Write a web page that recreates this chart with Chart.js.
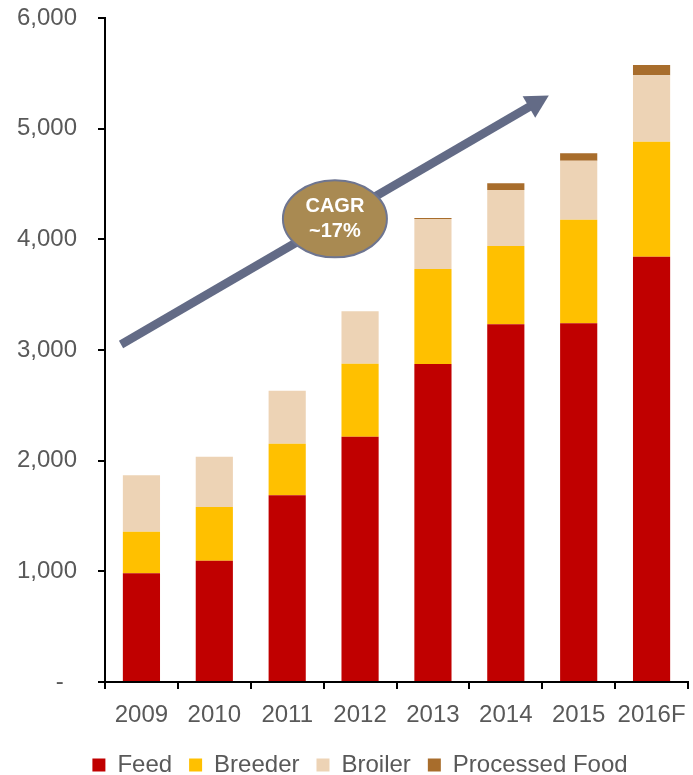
<!DOCTYPE html>
<html>
<head>
<meta charset="utf-8">
<script src="https://cdn.jsdelivr.net/npm/chart.js@4.4.1/dist/chart.umd.min.js"></script>
<style>
  html, body { margin: 0; padding: 0; background: #fff; }
  #wrap { width: 693px; height: 775px; }
</style>
</head>
<body>
<div id="wrap"><canvas id="salesChart" width="693" height="775"></canvas></div>
<script>
// chart data
var years = ['2009', '2010', '2011', '2012', '2013', '2014', '2015', '2016F'];
var feed = [982, 1096, 1687, 2216, 2873, 3232, 3241, 3843];
var breeder = [376, 485, 466, 660, 859, 708, 936, 1039];
var broiler = [510, 455, 479, 474, 452, 506, 533, 600];
var processedFood = [0, 0, 0, 0, 8, 60, 67, 93];
var yTicks = [0, 1000, 2000, 3000, 4000, 5000, 6000];

// CAGR arrow, in data units (category index, value)
var arrowFrom = { x: -0.28, y: 3050 };
var arrowTo = { x: 5.59, y: 5300 };
var badgeAt = { x: 2.655, y: 4185 };

var FONT = '"Liberation Sans", Arial, sans-serif';
var GREY = '#595959';

var cagrArrow = {
    id: 'cagrArrow',
    afterLayout: function (chart) {
        // nudge the legend row to the right, like the original
        chart.legend.left += 16;
        chart.legend.right += 16;
    },
    afterDatasetsDraw: function (chart) {
        var ctx = chart.ctx;
        var xs = chart.scales.x, ys = chart.scales.y;
        var x1 = xs.getPixelForValue(arrowFrom.x), y1 = ys.getPixelForValue(arrowFrom.y);
        var x2 = xs.getPixelForValue(arrowTo.x), y2 = ys.getPixelForValue(arrowTo.y);
        var len = Math.hypot(x2 - x1, y2 - y1);
        var ux = (x2 - x1) / len, uy = (y2 - y1) / len;
        var headLen = 23, headHalf = 12.5;
        var bx = x2 - ux * headLen, by = y2 - uy * headLen;

        ctx.save();
        ctx.strokeStyle = '#636B86';
        ctx.fillStyle = '#636B86';
        ctx.lineWidth = 8.5;
        ctx.lineCap = 'butt';
        ctx.beginPath();
        ctx.moveTo(x1, y1);
        ctx.lineTo(bx + ux * 2, by + uy * 2);
        ctx.stroke();
        ctx.beginPath();
        ctx.moveTo(x2, y2);
        ctx.lineTo(bx - uy * headHalf, by + ux * headHalf);
        ctx.lineTo(bx + uy * headHalf, by - ux * headHalf);
        ctx.closePath();
        ctx.fill();

        var cx = xs.getPixelForValue(badgeAt.x), cy = ys.getPixelForValue(badgeAt.y);
        ctx.beginPath();
        ctx.ellipse(cx, cy, 52, 38.5, 0, 0, Math.PI * 2);
        ctx.fillStyle = '#A98A52';
        ctx.fill();
        ctx.lineWidth = 2;
        ctx.strokeStyle = '#6E7590';
        ctx.stroke();

        ctx.fillStyle = '#ffffff';
        ctx.font = 'bold 20px ' + FONT;
        ctx.textAlign = 'center';
        ctx.textBaseline = 'middle';
        ctx.fillText('CAGR', cx, cy - 12);
        ctx.fillText('~17%', cx, cy + 13);
        ctx.restore();
    }
};

var ctx = document.getElementById('salesChart');
var chart = new Chart(ctx, {
    type: 'bar',
    data: {
        labels: years,
        datasets: [
            { label: 'Feed', data: feed, backgroundColor: '#C00000' },
            { label: 'Breeder', data: breeder, backgroundColor: '#FFC000' },
            { label: 'Broiler', data: broiler, backgroundColor: '#EDD3B5' },
            { label: 'Processed Food', data: processedFood, backgroundColor: '#A86D2C' }
        ]
    },
    options: {
        responsive: false,
        animation: false,
        devicePixelRatio: 1,
        layout: { padding: { left: 0, right: 5, top: 18, bottom: -12 } },
        datasets: {
            bar: { barPercentage: 0.51, categoryPercentage: 1, borderWidth: 0 }
        },
        plugins: {
            legend: {
                position: 'bottom',
                labels: {
                    boxWidth: 13,
                    boxHeight: 13,
                    padding: 17,
                    color: GREY,
                    font: { family: FONT, size: 24 }
                }
            },
            tooltip: { enabled: false }
        },
        scales: {
            x: {
                stacked: true,
                afterFit: function (scale) {
                    scale.height = 54;
                    scale.paddingLeft = 0;
                    scale.paddingRight = 0;
                },
                border: { color: '#000', width: 2 },
                grid: { drawOnChartArea: false, tickLength: 7, color: '#000', lineWidth: 2, offset: true },
                ticks: { color: GREY, padding: 12, font: { family: FONT, size: 24 }, maxRotation: 0 }
            },
            y: {
                stacked: true,
                min: 0,
                max: 6000,
                afterFit: function (scale) {
                    scale.width = 105;
                    scale.paddingTop = 0;
                    scale.paddingBottom = 0;
                },
                afterBuildTicks: function (scale) {
                    scale.ticks = yTicks.map(function (v) { return { value: v }; });
                },
                border: { color: '#000', width: 2 },
                grid: { drawOnChartArea: false, tickLength: 7, color: '#000', lineWidth: 2 },
                ticks: {
                    color: GREY,
                    padding: 21,
                    font: { family: FONT, size: 24 },
                    callback: function (v) { return v === 0 ? '-  ' : v.toLocaleString('en-US'); }
                }
            }
        }
    },
    plugins: [cagrArrow]
});
</script>
</body>
</html>
